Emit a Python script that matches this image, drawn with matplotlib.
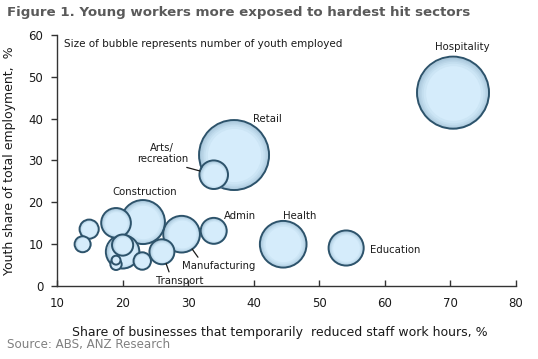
import matplotlib
matplotlib.use("Agg")
import matplotlib.pyplot as plt
import numpy as np
from matplotlib.colors import to_rgb

# ── data ───────────────────────────────────────────────────
sectors = ["Hospitality", "Retail", "Arts/\nrecreation", "Construction", "Admin",
           "Health", "Education", "Manufacturing", "Transport",
           "", "", "", "", "", "", "", ""]
biz_share = [70.4, 37.0, 33.9, 23.1, 33.9, 44.5, 54.1, 29.0, 26.0,
             20.0, 19.0, 20.0, 14.9, 13.9, 23.0, 19.0, 19.0]
youth_share = [46.2, 31.3, 26.6, 15.3, 13.2, 10.0, 9.1, 12.4, 8.2,
               8.2, 15.1, 9.8, 13.6, 10.0, 6.0, 5.2, 6.2]
youth_employed = [324, 306, 51, 121, 42, 136, 77, 84, 39,
                  70, 55, 28, 23, 16, 19, 8, 5]

x_ticks = [10, 20, 30, 40, 50, 60, 70, 80]
y_ticks = [0, 10, 20, 30, 40, 50, 60]

TITLE = "Figure 1. Young workers more exposed to hardest hit sectors"
NOTE = "Size of bubble represents number of youth employed"
XLABEL = "Share of businesses that temporarily  reduced staff work hours, %"
YLABEL = "Youth share of total employment,  %"
SOURCE = "Source: ABS, ANZ Research"

# ── styles ─────────────────────────────────────────────────
SIZE_SCALE = 8.3
EDGE = "#2d536b"
OUTER = "#a9c8dc"
INNER = "#d5ecfb"
GREY_TITLE = "#5a5a5a"

# label offsets (points from bubble centre) and leader start (relpos) if any
LABELS = {
    "Hospitality":       dict(off=(7, 33), rel=None),
    "Retail":            dict(off=(24, 26), rel=None),
    "Arts/\nrecreation": dict(off=(-37, 15), rel=(0.75, 0.0)),
    "Construction":      dict(off=(1.5, 21.5), rel=None),
    "Admin":             dict(off=(19, 11), rel=None),
    "Health":            dict(off=(12, 20), rel=None),
    "Education":         dict(off=(35, -1.5), rel=None),
    "Manufacturing":     dict(off=(27, -23), rel=(0.25, 1.0)),
    "Transport":         dict(off=(13, -21), rel=(0.3, 1.0)),
}

fig = plt.figure(figsize=(5.38, 3.59), dpi=100)
fig.patch.set_facecolor("white")
ax = fig.add_axes([0.106, 0.203, 0.853, 0.700])

# bubbles, largest first so small ones sit on top
order = np.argsort(youth_employed)[::-1]
c_out, c_in = np.array(to_rgb(OUTER)), np.array(to_rgb(INNER))
fracs = [1.0, 0.96, 0.92, 0.88, 0.83, 0.76]
z = 2
for i in order:
    s = youth_employed[i] * SIZE_SCALE
    for k, f in enumerate(fracs):
        t = k / (len(fracs) - 1)
        col = c_out * (1 - t) + c_in * t
        ax.scatter(biz_share[i], youth_share[i], s=s * f ** 2, color=col,
                   linewidths=0, zorder=z)
        z += 0.001
    ax.scatter(biz_share[i], youth_share[i], s=s, facecolors="none",
               edgecolors=EDGE, linewidths=1.4, zorder=z)
    z += 0.001

# labels
for i, name in enumerate(sectors):
    if not name:
        continue
    cfg = LABELS[name]
    r_pt = np.sqrt(youth_employed[i] * SIZE_SCALE) / 2
    kw = {}
    if cfg["rel"] is not None:
        kw["arrowprops"] = dict(arrowstyle="-", color="#1a1a1a", lw=0.9,
                                relpos=cfg["rel"], shrinkA=1, shrinkB=r_pt)
    ax.annotate(name, (biz_share[i], youth_share[i]), xytext=cfg["off"],
                textcoords="offset points", ha="center", va="center",
                fontsize=7.3, color="#1a1a1a", linespacing=1.1, zorder=50, **kw)

ax.text(0.015, 0.964, NOTE, transform=ax.transAxes, fontsize=7.5,
        color="#1a1a1a", va="center", ha="left")

ax.set_xlim(10, 80)
ax.set_ylim(0, 60)
ax.set_xticks(x_ticks)
ax.set_yticks(y_ticks)
ax.tick_params(axis="x", direction="in", length=4, width=1, labelsize=8.5,
               colors="#333333", labelcolor="#1a1a1a", pad=8)
ax.tick_params(axis="y", direction="out", length=4, width=1, labelsize=8.5,
               colors="#333333", labelcolor="#1a1a1a", pad=6)
for side in ("top", "right"):
    ax.spines[side].set_visible(False)
for side in ("left", "bottom"):
    ax.spines[side].set_color("#333333")
    ax.spines[side].set_linewidth(1)

ax.set_xlabel(XLABEL, fontsize=9, color="#1a1a1a")
ax.xaxis.set_label_coords(0.486, -0.16)
ax.set_ylabel(YLABEL, fontsize=9, color="#1a1a1a")
ax.yaxis.set_label_coords(-0.089, 0.5)

fig.text(0.013, 0.964, TITLE, fontsize=9.6, fontweight="bold", color=GREY_TITLE,
         ha="left", va="center")
fig.text(0.013, 0.039, SOURCE, fontsize=8.6, color="#808080",
         ha="left", va="center")

fig.savefig("out.png", dpi=100, facecolor="white")
